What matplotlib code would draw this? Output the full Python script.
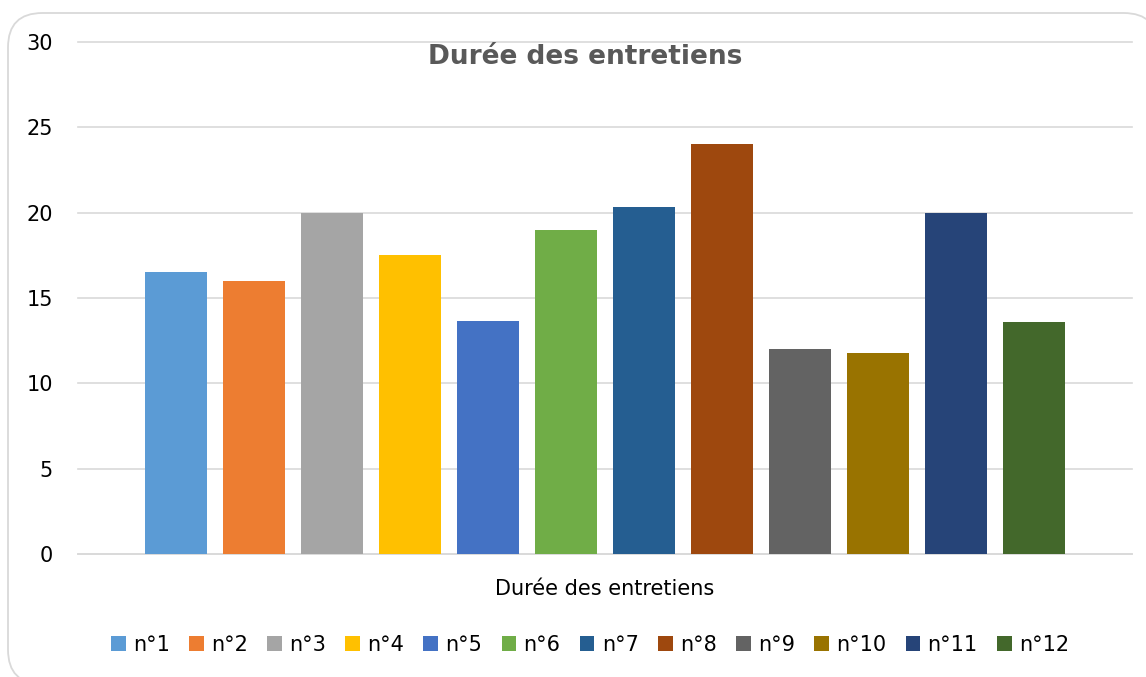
import matplotlib.pyplot as plt
from matplotlib.patches import FancyBboxPatch, Patch
import numpy as np

# values
labels = ["n°1", "n°2", "n°3", "n°4", "n°5", "n°6",
          "n°7", "n°8", "n°9", "n°10", "n°11", "n°12"]
durations = [16.5, 16.0, 20.0, 17.5, 13.67, 19.0,
             20.33, 24.0, 12.0, 11.75, 20.0, 13.6]
colors = ["#5B9BD5", "#ED7D31", "#A5A5A5", "#FFC000", "#4472C4", "#70AD47",
          "#255E91", "#9E480E", "#636363", "#997300", "#264478", "#43682B"]
yticks = [0, 5, 10, 15, 20, 25, 30]


def plot_durations(output_path=None):
    W, H = 1146, 677
    fig = plt.figure(figsize=(W / 100, H / 100), dpi=100)

    # rounded card border
    card = FancyBboxPatch((8 / W, (H - 684) / H), 1150 / W, 671 / H,
                          boxstyle="round,pad=0,rounding_size=0.03",
                          transform=fig.transFigure, facecolor="white",
                          edgecolor="#D9D9D9", linewidth=1.3,
                          mutation_aspect=W / H, zorder=-5)
    fig.patches.append(card)

    ax = fig.add_axes([78 / W, (H - 554) / H, (1132 - 78) / W, (554 - 42) / H])
    ax.set_facecolor("none")
    ax.set_zorder(2)

    x = np.arange(len(durations))
    ax.bar(x, durations, width=0.795, color=colors, zorder=3)

    ax.set_ylim(0, 30)
    ax.set_xlim(-1.256, 12.256)
    ax.set_yticks(yticks)
    ax.set_yticklabels([str(t) for t in yticks], fontsize=15)
    ax.set_xticks([])
    ax.tick_params(axis="y", length=0, pad=18)
    ax.yaxis.grid(True, color="#D9D9D9", linewidth=1.2, zorder=0)
    for gl in ax.get_ygridlines():
        gl.set_clip_on(False)
    ax.set_axisbelow(True)
    for side in ["top", "right", "left"]:
        ax.spines[side].set_visible(False)
    ax.spines["bottom"].set_color("#D9D9D9")
    ax.spines["bottom"].set_linewidth(1.2)

    fig.text(585 / W, (H - 57) / H, "Durée des entretiens", ha="center",
             va="center", fontsize=19, fontweight="bold", color="#595959")
    fig.text(605 / W, (H - 589) / H, "Durée des entretiens", ha="center",
             va="center", fontsize=15, color="black")

    handles = [Patch(facecolor=c) for c in colors]
    fig.legend(handles, labels, loc="center", bbox_to_anchor=(590 / W, (H - 645) / H),
               ncol=12, frameon=False, fontsize=15, handlelength=0.7,
               handleheight=0.7, handletextpad=0.35, columnspacing=0.93)

    if output_path:
        plt.savefig(output_path, dpi=100)


def main():
    plot_durations("out.png")


if __name__ == "__main__":
    main()
